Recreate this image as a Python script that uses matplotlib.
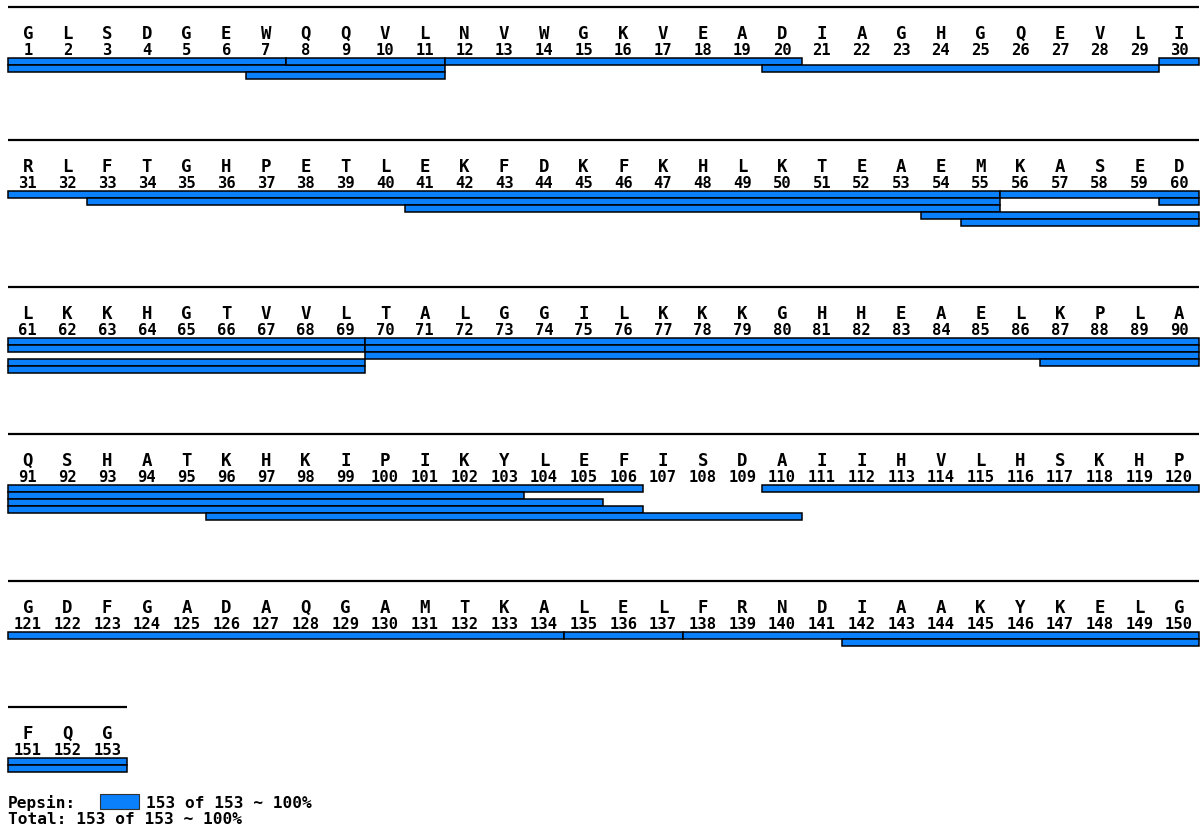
import matplotlib
matplotlib.use("Agg")
import matplotlib.pyplot as plt
from matplotlib.patches import Rectangle

# Protein sequence (horse myoglobin)
sequence = ("GLSDGEWQQVLNVWGKVEADIAGHGQEVLI"
            "RLFTGHPETLEKFDKFKHLKTEAEMKASED"
            "LKKHGTVVLTALGGILKKKGHHEAELKPLA"
            "QSHATKHKIPIKYLEFISDAIIHVLHSKHP"
            "GDFGADAQGAMTKALELFRNDIAAKYKELG"
            "FQG")

# Identified peptides (1-based, inclusive)
peptide_starts = [1, 1, 7, 8, 12, 20, 30, 33, 41, 54, 55, 56, 60,
                  70, 70, 70, 87, 96, 110, 135, 138, 142]
peptide_ends = [7, 11, 11, 11, 20, 29, 55, 55, 55, 69, 69, 69, 69,
                106, 103, 105, 106, 110, 134, 137, 153, 153]
enzyme_name = "Pepsin"
peptide_color = "#0a80fa"

per_row = 30
n_res = len(sequence)

# --- figure in pixel-like units: x in residue columns, y in pixels ---
W, H = 1200, 829
left_px, col_px = 8.0, 39.7
fig = plt.figure(figsize=(W / 100, H / 100), dpi=100)
ax = fig.add_axes([0, 0, 1, 1])
ax.set_xlim(-left_px / col_px, (W - left_px) / col_px)
ax.set_ylim(H, 0)
ax.axis("off")


def px_x(px):
    return (px - left_px) / col_px


# first-fit lane assignment (overlapping peptides go to separate lanes)
lane_end = []
lanes = []
for s, e in zip(peptide_starts, peptide_ends):
    for i, last in enumerate(lane_end):
        if s > last:
            lane_end[i] = e
            lanes.append(i)
            break
    else:
        lane_end.append(e)
        lanes.append(len(lane_end) - 1)

font = dict(family="DejaVu Sans Mono", weight="bold")
lane_h = 7.0
y0 = 8.0
n_rows = (n_res + per_row - 1) // per_row
for r in range(n_rows):
    first = r * per_row + 1
    last = min(n_res, first + per_row - 1)
    ncol = last - first + 1
    ax.plot([0, ncol], [y0, y0], color="black", lw=1.6,
            solid_capstyle="butt")
    for k in range(ncol):
        res = first + k
        ax.text(k + 0.5, y0 + 31, sequence[res - 1], ha="center",
                va="baseline", fontsize=12.5, **font)
        ax.text(k + 0.5, y0 + 47, str(res), ha="center",
                va="baseline", fontsize=11.2, **font)
    lane_top = y0 + 51
    used = 0
    for s, e, ln in zip(peptide_starts, peptide_ends, lanes):
        if e < first or s > last:
            continue
        a = max(s, first) - first
        b = min(e, last) - first + 1
        ax.add_patch(Rectangle((a, lane_top + ln * lane_h), b - a, lane_h,
                               facecolor=peptide_color, edgecolor="black",
                               lw=1.1))
        used = max(used, ln + 1)
    y_end = lane_top + used * lane_h
    y0 = y0 + 112 + used * lane_h

# coverage summary
covered = set()
for s, e in zip(peptide_starts, peptide_ends):
    covered.update(range(s, e + 1))
n_cov = len(covered)
pct = 100.0 * n_cov / n_res

leg_y = y_end + 35
ax.text(px_x(8), leg_y, f"{enzyme_name}:", ha="left", va="baseline",
        fontsize=11.6, **font)
ax.add_patch(Rectangle((px_x(100.5), leg_y - 13), px_x(139.5) - px_x(100.5),
                       15, facecolor=peptide_color, edgecolor="#333333",
                       lw=0.8))
ax.text(px_x(146), leg_y, f"{n_cov} of {n_res} ~ {pct:.0f}%", ha="left",
        va="baseline", fontsize=11.6, **font)
ax.text(px_x(8), leg_y + 16, f"Total: {n_cov} of {n_res} ~ {pct:.0f}%",
        ha="left", va="baseline", fontsize=11.6, **font)

fig.savefig("out.png", dpi=100)
